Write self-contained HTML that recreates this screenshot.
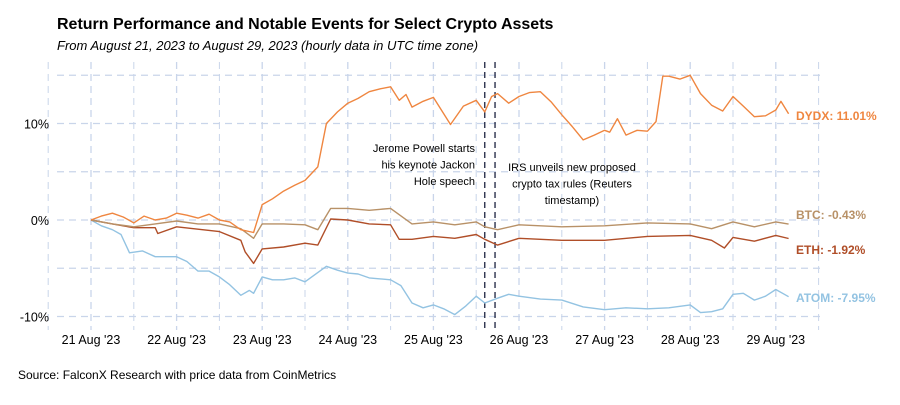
<!DOCTYPE html>
<html><head><meta charset="utf-8"><style>
body{margin:0;background:#fff;font-family:"Liberation Sans",Arial,sans-serif}
svg text{font-family:"Liberation Sans",Arial,sans-serif}
</style></head><body>
<svg id="chart" width="900" height="400" viewBox="0 0 900 400">
<text x="57" y="29" font-size="16" font-weight="bold" fill="#000">Return Performance and Notable Events for Select Crypto Assets</text>
<text x="57" y="50" font-size="13" font-style="italic" fill="#000">From August 21, 2023 to August 29, 2023 (hourly data in UTC time zone)</text>
<g id="grid"></g>
<g id="marks"></g>
<g id="axes"></g>
<text x="18" y="379" font-size="12" fill="#000">Source: FalconX Research with price data from CoinMetrics</text>
</svg>
<script>
const xTickLabels=["21 Aug '23","22 Aug '23","23 Aug '23","24 Aug '23","25 Aug '23","26 Aug '23","27 Aug '23","28 Aug '23","29 Aug '23"];
const yTicks=[-10,0,10];
const yTickLabels=["-10%","0%","10%"];
const dydxT=[0,0.12,0.25,0.38,0.5,0.62,0.75,0.88,1,1.12,1.25,1.38,1.5,1.62,1.75,1.9,2,2.12,2.25,2.38,2.5,2.65,2.75,2.88,3,3.12,3.25,3.38,3.5,3.6,3.68,3.75,3.88,4,4.2,4.35,4.5,4.6,4.68,4.75,4.88,5,5.12,5.25,5.38,5.5,5.62,5.75,5.88,6,6.06,6.15,6.25,6.38,6.5,6.6,6.68,6.75,6.88,7,7.12,7.25,7.38,7.5,7.62,7.75,7.88,8,8.06,8.15];
const dydxV=[0,0.4,0.7,0.3,-0.3,0.4,0,0.2,0.7,0.5,0.2,0.6,0,-0.2,-1,-1.3,1.6,2.2,3,3.6,4.1,5.5,10,11.2,12.1,12.6,13.3,13.6,13.8,12.4,13,11.7,12.3,12.7,9.9,11.8,12.4,11.2,12.8,13.1,12.1,12.8,13.2,13.3,12.2,10.9,9.7,8.3,8.8,9.3,9.1,10.5,8.8,9.3,9.2,10.2,14.9,14.9,14.6,15,13.1,11.9,11.3,12.8,11.8,10.7,10.8,11.4,12.3,11.01];
const btcT=[0,0.25,0.5,0.75,1,1.25,1.5,1.75,1.9,2,2.25,2.5,2.65,2.8,3,3.25,3.5,3.75,4,4.25,4.5,4.6,4.75,5,5.5,6,6.5,7,7.25,7.5,7.75,8,8.15];
const btcV=[0,-0.4,-0.7,-0.4,-0.1,-0.4,-0.4,-0.9,-1.9,-0.4,-0.4,-0.5,-1,1.2,1.2,1,1.2,-0.4,-0.2,-0.5,-0.2,-0.7,-1,-0.5,-0.7,-0.6,-0.3,-0.4,-0.9,-0.2,-0.7,-0.2,-0.43];
const ethT=[0,0.25,0.5,0.75,0.78,1,1.5,1.75,1.8,1.9,2,2.25,2.5,2.65,2.8,3,3.25,3.5,3.6,3.75,4,4.25,4.5,4.6,4.75,5,5.5,6,6.5,7,7.25,7.4,7.5,7.75,8,8.15];
const ethV=[0,-0.4,-0.8,-0.8,-1.4,-0.7,-1.2,-2.1,-3.3,-4.5,-3,-2.8,-2.4,-2.6,0.1,0,-0.4,-0.5,-2,-2,-1.7,-1.9,-1.5,-2,-2.6,-1.9,-2.1,-2.1,-1.7,-1.6,-2.1,-2.9,-1.8,-2.2,-1.6,-1.92];
const atomT=[0,0.12,0.25,0.35,0.45,0.6,0.75,1,1.12,1.25,1.38,1.5,1.62,1.75,1.85,1.9,2,2.12,2.25,2.38,2.5,2.75,2.88,3,3.12,3.25,3.5,3.62,3.75,3.88,4,4.12,4.25,4.38,4.5,4.6,4.75,4.88,5,5.25,5.5,5.75,6,6.25,6.5,6.75,7,7.12,7.25,7.38,7.5,7.62,7.75,7.88,8,8.15];
const atomV=[0,-0.6,-1,-1.5,-3.4,-3.2,-3.8,-3.8,-4.3,-5.3,-5.3,-5.9,-6.7,-7.8,-7.3,-7.6,-5.9,-6.2,-6.2,-6.0,-6.4,-4.8,-5.2,-5.5,-5.6,-6,-6.2,-6.8,-8.6,-9.1,-8.8,-9.2,-9.8,-8.9,-7.9,-8.6,-8.1,-7.7,-7.9,-8.2,-8.3,-9,-9.3,-9.1,-9.2,-9.1,-8.8,-9.6,-9.5,-9.2,-7.7,-7.6,-8.3,-7.9,-7.2,-7.95];
const eventDays=[4.6,4.72];

const NS="http://www.w3.org/2000/svg";
const X=d=>91+85.6*d;
const Y=v=>220-9.65*v;
function mk(tag,attrs,parent){const e=document.createElementNS(NS,tag);for(const k in attrs)e.setAttribute(k,attrs[k]);parent.appendChild(e);return e;}
const grid=document.getElementById('grid'),marks=document.getElementById('marks'),axes=document.getElementById('axes');
const gc="#c9d5ea";
for(let v=-10;v<=15;v+=5){
  const l=mk('line',{x1:57,x2:822,y1:Y(v),y2:Y(v),stroke:gc,'stroke-width':1.3,'stroke-dasharray':'7 5'},grid);
  
  
}
for(let d=-0.5;d<=8.5;d+=0.5){
  const l=mk('line',{x1:X(d),x2:X(d),y1:62,y2:330,stroke:gc,'stroke-width':d%1===0?1.3:1,'stroke-dasharray':'7 5'},grid);
  
  
}
xTickLabels.forEach((s,i)=>{
  const t=mk('text',{x:X(i),y:344,'font-size':12.5,'text-anchor':'middle',fill:'#000'},axes);t.textContent=s;
  
  
});
yTicks.forEach((v,i)=>{
  const t=mk('text',{x:49,y:Y(v)+5,'font-size':12.5,'text-anchor':'end',fill:'#000'},axes);t.textContent=yTickLabels[i];
  
  
});
eventDays.forEach(d=>{
  const l=mk('line',{x1:X(d),x2:X(d),y1:62,y2:330,stroke:'#1c2340','stroke-width':1.3,'stroke-dasharray':'6 4'},marks);
  
  
});
const all=[[atomT,atomV,'#93c3e2'],[ethT,ethV,'#b04e28'],[btcT,btcV,'#b89167'],[dydxT,dydxV,'#ef8640']];
const names=["atom-line","eth-line","btc-line","dydx-line"];
all.forEach(([t,v,c],i)=>{
  const p=mk('polyline',{points:t.map((d,j)=>X(d).toFixed(1)+','+Y(v[j]).toFixed(1)).join(' '),fill:'none',stroke:c,'stroke-width':1.4,'stroke-linejoin':'round'},marks);
  
  
});
const labs=[["DYDX: 11.01%",'#ef8640',116],["BTC: -0.43%",'#b89167',215],["ETH: -1.92%",'#b04e28',250],["ATOM: -7.95%",'#93c3e2',298]];
labs.forEach(([s,c,y])=>{
  const t=mk('text',{x:796,y:y+4,'font-size':12,'font-weight':'bold',fill:c},marks);t.textContent=s;
  
  
});
function multi(lines,x,y,anchor,name){
  lines.forEach((s,i)=>{const t=mk('text',{x:x,y:y+i*16.5,'font-size':11,'text-anchor':anchor,fill:'#000'},marks);t.textContent=s;
  
  });
}
multi(["Jerome Powell starts","his keynote Jackon","Hole speech"],475,152,'end','powell-annotation');
multi(["IRS unveils new proposed","crypto tax rules (Reuters","timestamp)"],572,171,'middle','irs-annotation');
</script>
</body></html>
